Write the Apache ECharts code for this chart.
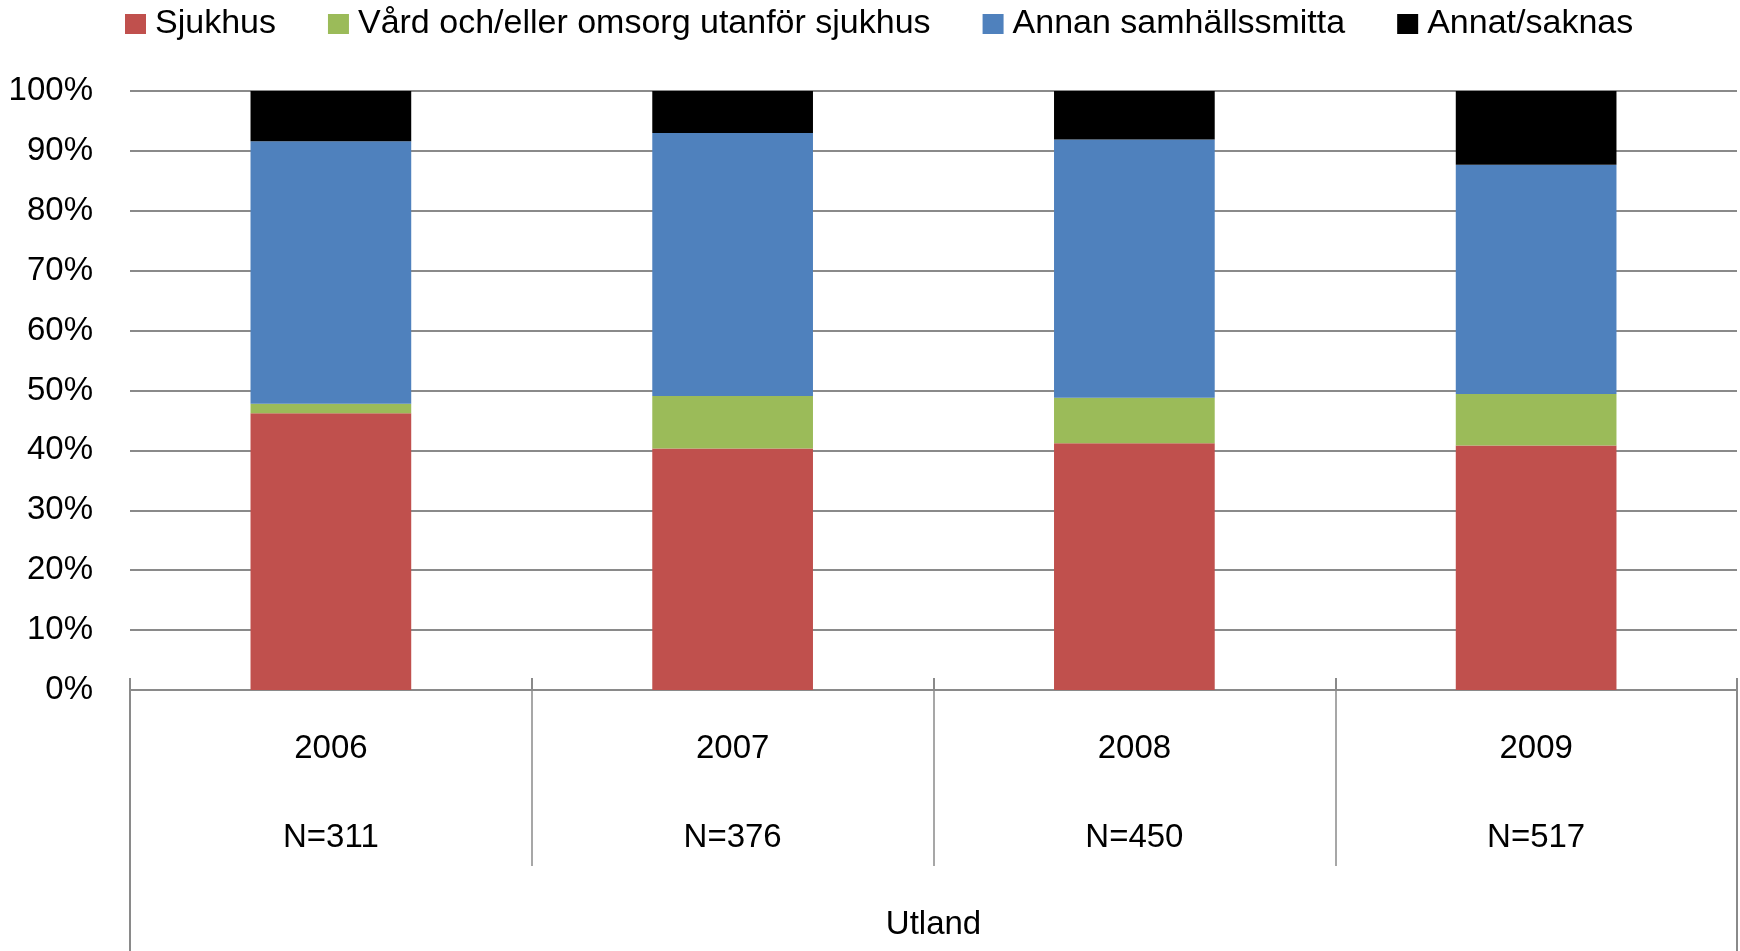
<!DOCTYPE html>
<html>
<head>
<meta charset="utf-8">
<script src="https://cdn.jsdelivr.net/npm/echarts@6/dist/echarts.min.js"></script>
<style>
  html, body { margin: 0; padding: 0; background: #fff; }
  #chart { width: 1740px; height: 951px; }
</style>
</head>
<body>
<div id="chart"></div>
<script>
  // categorias e valores (% por ano)
  const years = ['2006', '2007', '2008', '2009'];
  const nLabels = ['N=311', 'N=376', 'N=450', 'N=517'];
  const group = ['Utland'];
  const sjukhus = [46.2, 40.3, 41.2, 40.8];
  const vard = [1.6, 8.8, 7.6, 8.6];
  const annan = [43.8, 43.9, 43.1, 38.3];
  const annat = [8.4, 7.0, 8.1, 12.3];

  const font = 'Liberation Sans, Arial, sans-serif';
  const gray = '#8a8a8a';

  const myChart = echarts.init(document.getElementById('chart'));

  const mkSerie = (name, data, color) => ({
    name: name,
    type: 'bar',
    stack: 'total',
    barWidth: '40%',
    data: data,
    itemStyle: { color: color },
  });

  const option = {
    backgroundColor: '#fff',
    animation: false,
    textStyle: { fontFamily: font },
    legend: {
      top: 4,
      left: 125,
      padding: 0,
      itemWidth: 21,
      itemHeight: 20,
      itemGap: 52,
      icon: 'rect',
      textStyle: { fontSize: 34, lineHeight: 40, color: '#000', fontFamily: font, padding: [0, 0, 0, 4] },
    },
    grid: { left: 130, right: 3, top: 91, bottom: 261 },
    xAxis: [
      {
        type: 'category',
        data: years,
        position: 'bottom',
        axisLine: { lineStyle: { color: gray, width: 2 } },
        axisTick: { show: true, inside: true, length: 12, lineStyle: { color: gray, width: 2 } },
        axisLabel: {
          margin: 14,
          lineHeight: 89,
          fontSize: 33,
          color: '#000',
          fontFamily: font,
          formatter: (v, i) => v + '\n' + nLabels[i],
        },
      },
      {
        // linhas separadoras abaixo do eixo
        type: 'category',
        data: years,
        position: 'bottom',
        axisLine: { show: false },
        axisTick: { show: true, length: 176, lineStyle: { color: gray, width: 1.5 } },
        axisLabel: { show: false },
      },
      {
        // nível do grupo
        type: 'category',
        data: group,
        position: 'bottom',
        axisLine: { show: false },
        axisTick: { show: true, length: 262, lineStyle: { color: gray, width: 2 } },
        axisLabel: { margin: 215, lineHeight: 40, fontSize: 33, color: '#000', fontFamily: font },
      },
    ],
    yAxis: {
      type: 'value',
      min: 0,
      max: 100,
      interval: 10,
      axisLine: { show: false },
      axisTick: { show: false },
      axisLabel: { formatter: '{value}%', fontSize: 33, color: '#000', margin: 37, fontFamily: font },
      splitLine: { lineStyle: { color: gray, width: 2 } },
    },
    series: [
      mkSerie('Sjukhus', sjukhus, '#C0504D'),
      mkSerie('Vård och/eller omsorg utanför sjukhus', vard, '#9BBB59'),
      mkSerie('Annan samhällssmitta', annan, '#4F81BD'),
      mkSerie('Annat/saknas', annat, '#000000'),
    ],
  };

  myChart.setOption(option);
</script>
</body>
</html>
